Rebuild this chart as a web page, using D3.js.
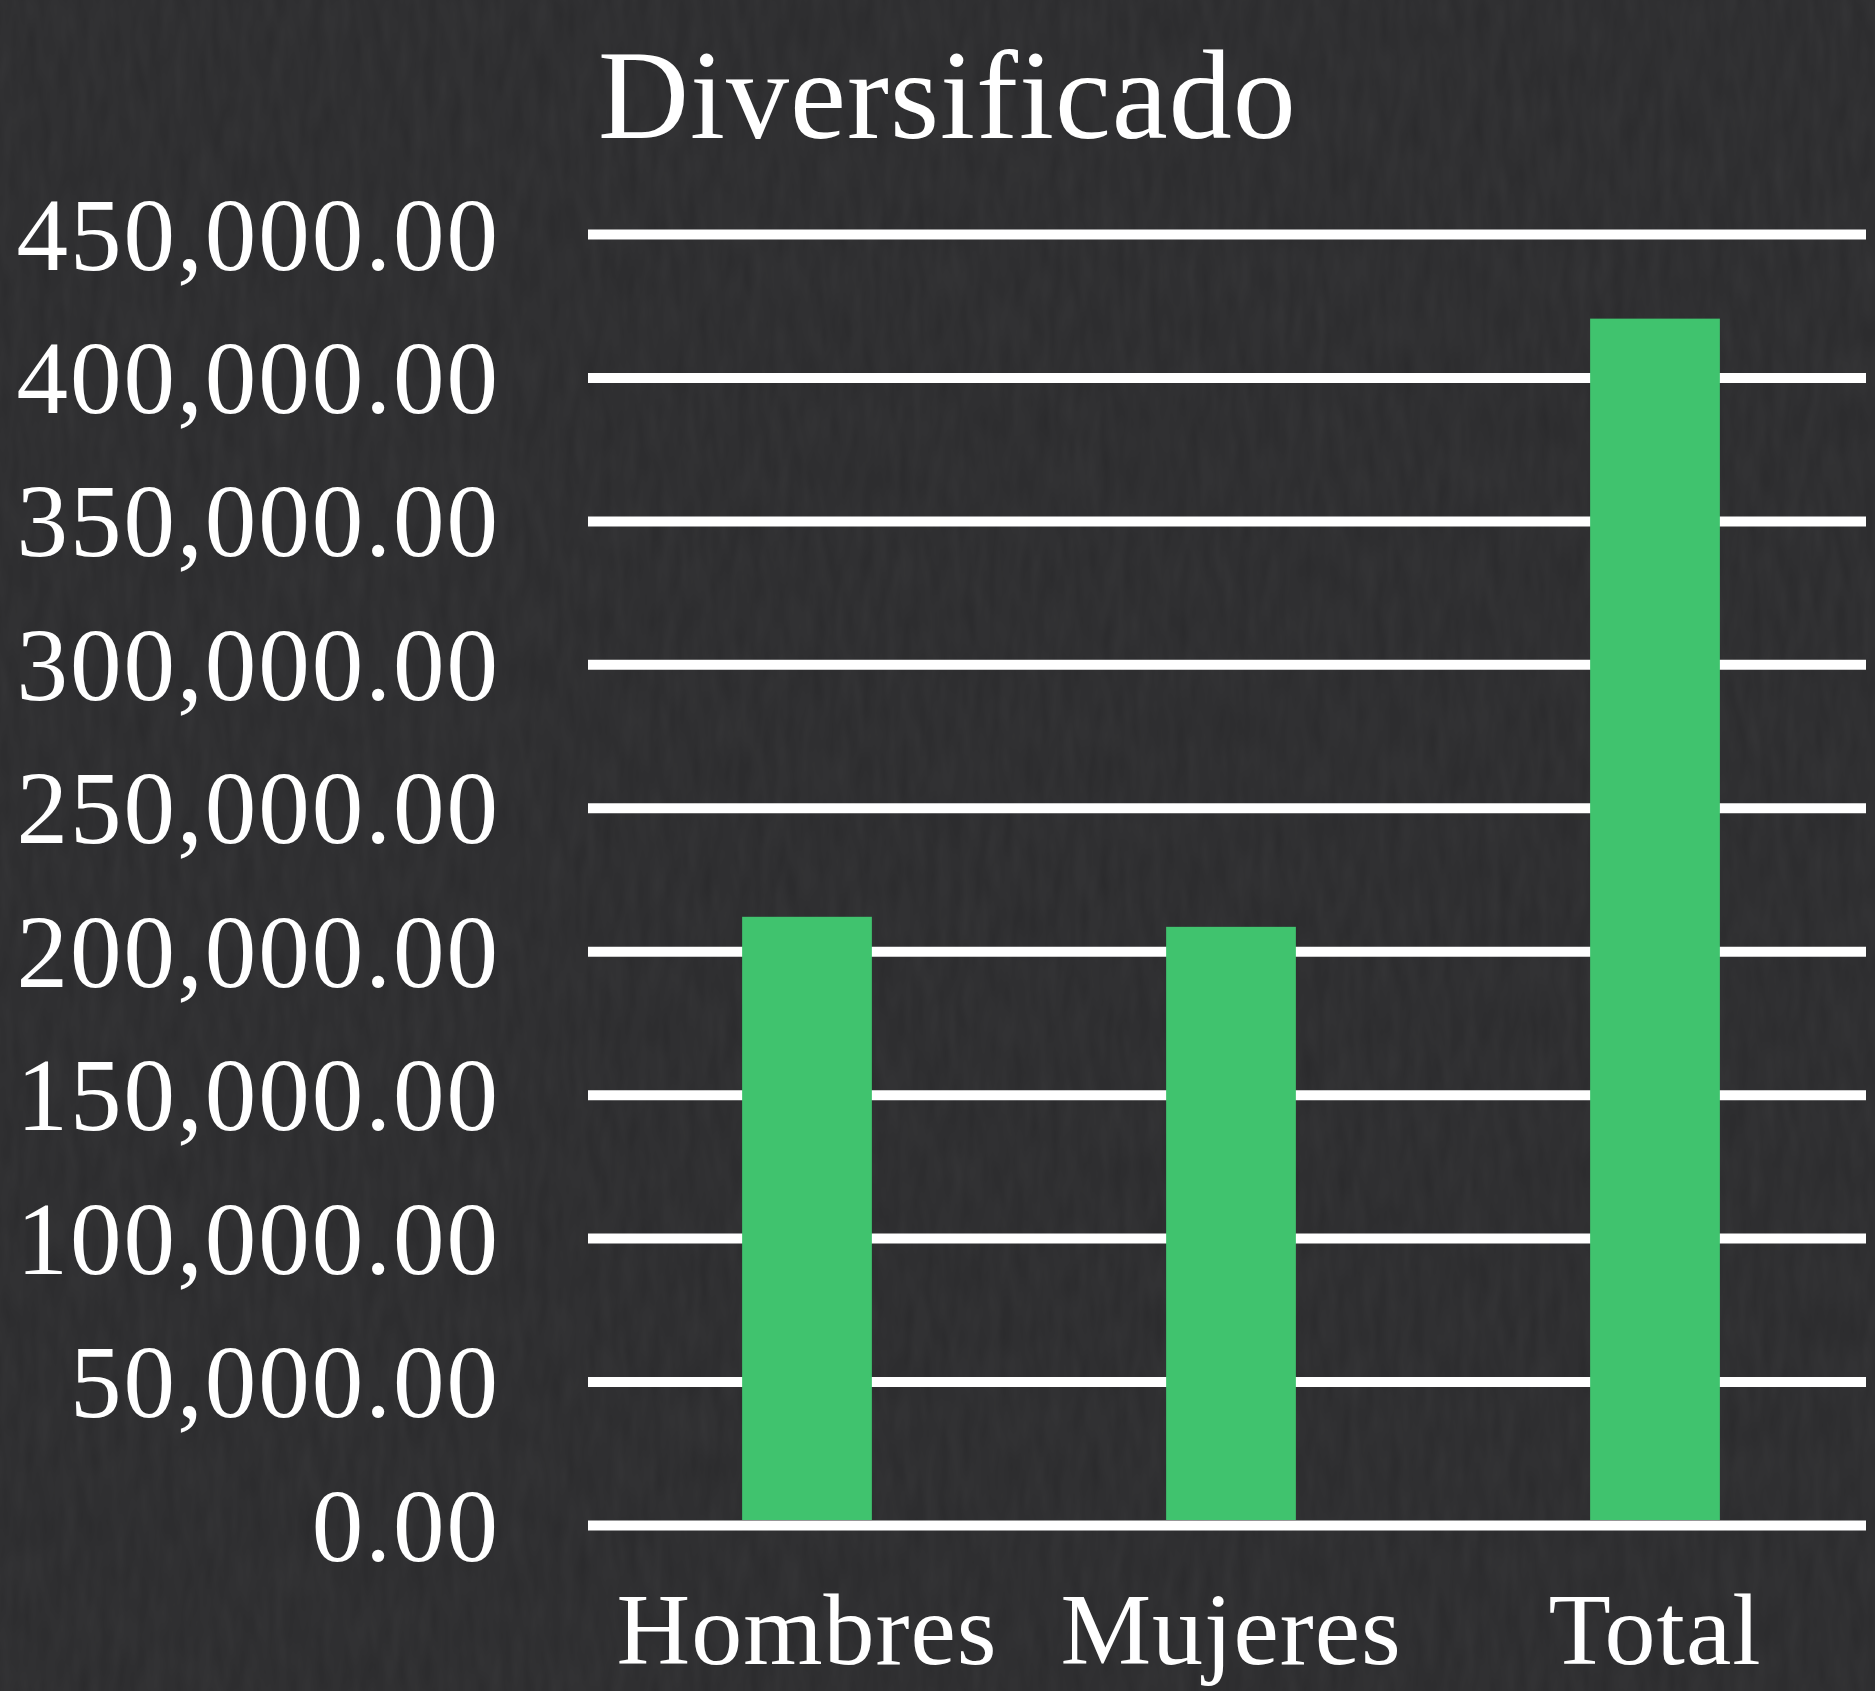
<!DOCTYPE html>
<html>
<head>
<meta charset="utf-8">
<script src="https://cdn.jsdelivr.net/npm/d3@7"></script>
<style>
  html, body { margin: 0; padding: 0; background: #2b2b2d; }
</style>
</head>
<body>
<div id="chart"></div>
<script>
// D3 bar chart: Diversificado (Hombres / Mujeres / Total)

var categories = ["Hombres", "Mujeres", "Total"];
var values = [212000, 208500, 420500];
var yTicks = [0, 50000, 100000, 150000, 200000, 250000, 300000, 350000, 400000, 450000];
var chartTitle = "Diversificado";

var fullWidth = 1875;
var fullHeight = 1691;

var svg = d3.select("#chart")
    .append("svg")
    .attr("width", fullWidth)
    .attr("height", fullHeight)

/* Chalkboard-ish background. */
var defs = svg.append("defs")
var noise = defs.append("filter").attr("id", "grain")
noise.append("feTurbulence")
    .attr("type", "fractalNoise")
    .attr("baseFrequency", "0.08 0.02")
    .attr("numOctaves", 2)
    .attr("seed", 3)
noise.append("feColorMatrix")
    .attr("type", "matrix")
    .attr("values", "0 0 0 0 1  0 0 0 0 1  0 0 0 0 1  0 0 0 0.05 0")

svg.append("rect")
    .attr("width", fullWidth)
    .attr("height", fullHeight)
    .style("fill", "#2a2a2c")
svg.append("rect")
    .attr("width", fullWidth)
    .attr("height", fullHeight)
    .attr("filter", "url(#grain)")

// scales
var x = d3.scaleBand()
    .domain(categories)
    .range([595, 1867])
    .paddingInner(0.694)
    .paddingOuter(0.347)

var y = d3.scaleLinear()
    .domain([0, 450000])
    .range([1525, 234])

var fmt = d3.format(",.2f")

// grid lines + y labels, via an axis so ticks come from the scale
var yAxis = d3.axisLeft(y)
    .tickValues(yTicks)
    .tickFormat(fmt)
    .tickSize(-(1866 - 588))
    .tickPadding(88)

var gy = svg.append("g")
    .attr("transform", "translate(588,0)")
    .call(yAxis)
gy.select(".domain").remove()
gy.selectAll(".tick line")
    .style("stroke", "#ffffff")
    .style("stroke-width", 10)
gy.selectAll(".tick text")
    .style("fill", "#ffffff")
    .style("font-family", "'Liberation Serif', 'DejaVu Serif', serif")
    .style("font-size", "103px")
    .style("letter-spacing", "2px")
    .attr("dy", "0.34em")

// bars
svg.append("g").selectAll("rect")
    .data(values)
    .enter()
    .append("rect")
    .attr("x", function(d, i) { return x(categories[i]); })
    .attr("y", function(d) { return y(d); })
    .attr("width", x.bandwidth())
    .attr("height", function(d) { return y(0) - y(d) - 5; })
    .style("fill", "#40c36e")

// category labels
svg.append("g").selectAll("text")
    .data(categories)
    .enter()
    .append("text")
    .attr("x", function(d) { return x(d) + x.bandwidth() / 2; })
    .attr("y", 1664)
    .attr("text-anchor", "middle")
    .style("fill", "#ffffff")
    .style("font-family", "'Liberation Serif', 'DejaVu Serif', serif")
    .style("font-size", "102px")
    .style("letter-spacing", "1px")
    .text(function(d) { return d; })

// title
svg.append("text")
    .attr("x", 598)
    .attr("y", 138)
    .style("fill", "#ffffff")
    .style("font-family", "'Liberation Serif', 'DejaVu Serif', serif")
    .style("font-size", "126px")
    .style("letter-spacing", "1px")
    .text(chartTitle)
</script>
</body>
</html>
